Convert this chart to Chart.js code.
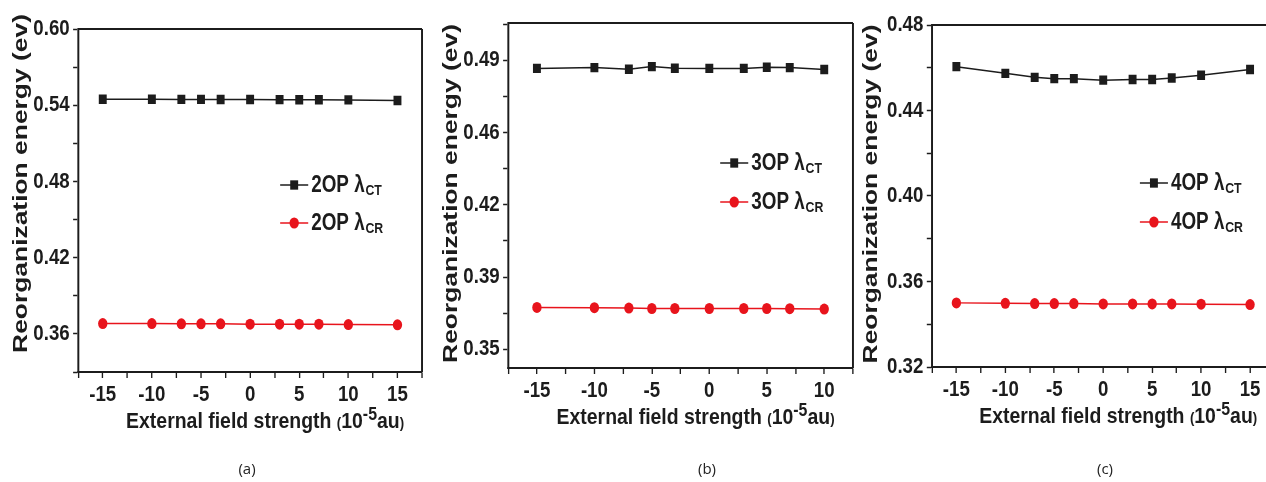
<!DOCTYPE html>
<html>
<head>
<meta charset="utf-8">
<script src="https://cdn.jsdelivr.net/npm/chart.js@4/dist/chart.umd.min.js"></script>
<style>
  html, body { margin: 0; padding: 0; background: #fff; }
  body { width: 1266px; height: 482px; overflow: hidden; position: relative; }
  canvas { position: absolute; top: 0; }
  .cap { position: absolute; top: 458px; width: 60px; margin-left: -30px; text-align: center;
         font: 15px "Open Sans", "Liberation Sans", sans-serif; color: #222; }
</style>
</head>
<body>
<canvas id="pa" width="520" height="482" style="left:0px"></canvas>
<canvas id="pb" width="520" height="482" style="left:430px"></canvas>
<canvas id="pc" width="520" height="482" style="left:852px"></canvas>
<div class="cap" style="left:247px">(a)</div>
<div class="cap" style="left:707px">(b)</div>
<div class="cap" style="left:1105px">(c)</div>
<script>
// ---- data ----
const fieldA = [-15, -10, -7, -5, -3, 0, 3, 5, 7, 10, 15];
const ctA = [0.5447, 0.5447, 0.5446, 0.5446, 0.5445, 0.5445, 0.5444, 0.5443, 0.5443, 0.5442, 0.5437];
const crA = [0.3681, 0.3681, 0.3679, 0.3679, 0.3679, 0.3676, 0.3676, 0.3676, 0.3676, 0.3673, 0.3671];

const fieldB = [-15, -10, -7, -5, -3, 0, 3, 5, 7, 10];
const ctB = [0.4860, 0.4864, 0.4856, 0.4869, 0.4861, 0.4860, 0.4860, 0.4866, 0.4864, 0.4855];
const crB = [0.3703, 0.3702, 0.3700, 0.3698, 0.3698, 0.3698, 0.3698, 0.3698, 0.3697, 0.3695];

const fieldC = [-15, -10, -7, -5, -3, 0, 3, 5, 7, 10, 15];
const ctC = [0.4605, 0.4574, 0.4555, 0.4549, 0.4549, 0.4542, 0.4545, 0.4545, 0.4552, 0.4565, 0.4592];
const crC = [0.3500, 0.3498, 0.3497, 0.3497, 0.3497, 0.3495, 0.3495, 0.3495, 0.3495, 0.3494, 0.3492];

// tick positions (major carry labels, minor are bare marks)
const xMajor = [-15, -10, -5, 0, 5, 10, 15];
const xTicksAC = [-17.5, -15, -12.5, -10, -7.5, -5, -2.5, 0, 2.5, 5, 7.5, 10, 12.5, 15, 17.5];
const xTicksB = [-17.5, -15, -12.5, -10, -7.5, -5, -2.5, 0, 2.5, 5, 7.5, 10, 12.5];

const yMajorA = [0.36, 0.42, 0.48, 0.54, 0.60];
const yLabelsA = ['0.36', '0.42', '0.48', '0.54', '0.60'];
const yMinorA = [0.33, 0.39, 0.45, 0.51, 0.57];

const yMajorB = [0.35, 0.385, 0.42, 0.455, 0.49];
const yLabelsB = ['0.35', '0.39', '0.42', '0.46', '0.49'];
const yMinorB = [0.3675, 0.4025, 0.4375, 0.4725, 0.5075];

const yMajorC = [0.32, 0.36, 0.40, 0.44, 0.48];
const yLabelsC = ['0.32', '0.36', '0.40', '0.44', '0.48'];
const yMinorC = [0.34, 0.38, 0.42, 0.46];

const Y_TITLE = 'Reorganization energy (ev)';
const X_TITLE = ['External field strength ', '(', '10', '-5', 'au', ')'];

// ---- styling ----
const INK = '#1c1c1c';
const RED = '#e8141c';
const SANS = '"Liberation Sans", Arial, sans-serif';
const SX = 0.85;   // horizontal condensing of each panel's drawing

const near = (a, b) => Math.abs(a - b) < 1e-9;

// condensed drawing, frame, axis titles and legend with sub/superscripts
const decor = {
  id: 'decor',
  beforeDraw(chart) {
    chart.ctx.save();
    chart.ctx.scale(SX, 1);
  },
  afterDraw(chart, args, o) {
    const { ctx, chartArea: a } = chart;
    ctx.save();
    ctx.strokeStyle = INK;
    ctx.lineWidth = 2;
    ctx.beginPath();
    ctx.moveTo(a.left, a.top);
    ctx.lineTo(a.right, a.top);
    ctx.stroke();
    ctx.lineWidth = 2.3;
    ctx.beginPath();
    ctx.moveTo(a.right, a.top);
    ctx.lineTo(a.right, a.bottom);
    ctx.stroke();

    ctx.fillStyle = INK;
    // y title
    ctx.save();
    ctx.translate(a.left + o.yTitleX, (a.top + a.bottom) / 2 + o.yTitleDy);
    ctx.rotate(-Math.PI / 2);
    ctx.scale(1.1, 1);
    ctx.font = 'bold 24px ' + SANS;
    ctx.textAlign = 'center';
    ctx.textBaseline = 'alphabetic';
    ctx.fillText(Y_TITLE, 0, 0);
    ctx.restore();

    // x title
    const parts = [
      { t: X_TITLE[0], s: 22, dy: 0 },
      { t: X_TITLE[1], s: 15, dy: 0 },
      { t: X_TITLE[2], s: 22, dy: 0 },
      { t: X_TITLE[3], s: 18, dy: -8 },
      { t: X_TITLE[4], s: 22, dy: 0 },
      { t: X_TITLE[5], s: 15, dy: 0 }
    ];
    const tx = 1.04;
    ctx.save();
    let total = 0;
    parts.forEach(p => { ctx.font = 'bold ' + p.s + 'px ' + SANS; p.w = ctx.measureText(p.t).width; total += p.w; });
    const cx = (a.left + a.right) / 2 + o.xTitleDx;
    ctx.translate(cx - total * tx / 2, a.bottom + o.xTitleY);
    ctx.scale(tx, 1);
    ctx.textAlign = 'left';
    ctx.textBaseline = 'alphabetic';
    let x = 0;
    parts.forEach(p => { ctx.font = 'bold ' + p.s + 'px ' + SANS; ctx.fillText(p.t, x, p.dy); x += p.w; });
    ctx.restore();

    // legend
    chart.data.datasets.forEach((ds, i) => {
      const lx = a.left + o.legendX;
      const ly = a.top + o.legendY + i * o.legendGap;
      ctx.strokeStyle = ds.borderColor;
      ctx.lineWidth = 1.5;
      ctx.beginPath();
      ctx.moveTo(lx, ly);
      ctx.lineTo(lx + 33, ly);
      ctx.stroke();
      ctx.fillStyle = ds.pointBackgroundColor;
      ctx.beginPath();
      if (ds.pointStyle === 'rect') {
        const h = ds.pointRadius * Math.SQRT1_2;
        ctx.rect(lx + 16.5 - h, ly - h, 2 * h, 2 * h);
      } else {
        ctx.arc(lx + 16.5, ly, ds.pointRadius, 0, Math.PI * 2);
      }
      ctx.fill();
      const [main, sub] = ds.label.split('|');
      ctx.save();
      ctx.translate(lx + 36.5, ly + 7);
      ctx.scale(0.965, 1);
      ctx.fillStyle = INK;
      ctx.textAlign = 'left';
      ctx.textBaseline = 'alphabetic';
      ctx.font = 'bold 23px ' + SANS;
      ctx.fillText(main, 0, 0);
      const mw = ctx.measureText(main).width;
      ctx.font = 'bold 15px ' + SANS;
      ctx.fillText(sub, mw + 1, 3);
      ctx.restore();
    });
    ctx.restore();
    ctx.restore();   // matches the save in beforeDraw
  }
};

function series(xs, ys, name, sub, color, style, r) {
  return {
    label: name + ' λ|' + sub,
    data: xs.map((x, i) => ({ x: x, y: ys[i] })),
    borderColor: color,
    backgroundColor: color,
    pointBackgroundColor: color,
    pointBorderColor: color,
    pointBorderWidth: 0,
    pointStyle: style,
    pointRadius: r,
    borderWidth: 1.5,
    tension: 0
  };
}

function panel(id, cfg) {
  const tickFont = { family: SANS, size: 22, weight: 'bold' };
  new Chart(document.getElementById(id), {
    type: 'line',
    data: {
      datasets: [
        series(cfg.xs, cfg.ct, cfg.name, 'CT', INK, 'rect', 6.6),
        series(cfg.xs, cfg.cr, cfg.name, 'CR', RED, 'circle', 5.5)
      ]
    },
    options: {
      responsive: false,
      animation: false,
      devicePixelRatio: 1,
      events: [],
      layout: { padding: cfg.pad },
      plugins: { legend: { display: false }, tooltip: { enabled: false }, decor: cfg.decor },
      scales: {
        x: {
          type: 'linear',
          min: cfg.xMin, max: cfg.xMax,
          afterBuildTicks: s => { s.ticks = cfg.xTicks.map(v => ({ value: v })); },
          afterFit: s => { s.height = 70; },
          ticks: {
            autoSkip: false, maxRotation: 0, padding: 4, color: INK, font: tickFont,
            callback: v => xMajor.some(m => near(m, v)) ? String(v) : ''
          },
          grid: { drawOnChartArea: false, drawTicks: true, tickLength: 6, tickWidth: 1.6, tickColor: INK },
          border: { display: true, width: 2, color: INK }
        },
        y: {
          type: 'linear',
          min: cfg.yMin, max: cfg.yMax,
          afterBuildTicks: s => {
            s.ticks = cfg.yMajor.concat(cfg.yMinor).sort((p, q) => p - q).map(v => ({ value: v }));
          },
          afterFit: s => { s.width = cfg.yWidth; },
          ticks: {
            autoSkip: false, padding: 4, color: INK, font: tickFont,
            callback: v => {
              const k = cfg.yMajor.findIndex(m => near(m, v));
              return k >= 0 ? cfg.yLabels[k] : '';
            }
          },
          grid: { drawOnChartArea: false, drawTicks: true, tickLength: 6, tickWidth: 1.5, tickColor: INK },
          border: { display: true, width: 2.3, color: INK }
        }
      }
    },
    plugins: [decor]
  });
}

panel('pa', {
  xs: fieldA, ct: ctA, cr: crA, name: '2OP',
  xMin: -17.5, xMax: 17.5, xTicks: xTicksAC,
  yMin: 0.33, yMax: 0.60, yMajor: yMajorA, yMinor: yMinorA, yLabels: yLabelsA,
  yWidth: 92, pad: { left: 0, top: 29, right: 23.5, bottom: 40 },
  decor: { yTitleX: -60, yTitleDy: -17, xTitleDx: 17.6, xTitleY: 56, legendX: 237.6, legendY: 156, legendGap: 38 }
});
panel('pb', {
  xs: fieldB, ct: ctB, cr: crB, name: '3OP',
  xMin: -17.5, xMax: 12.5, xTicks: xTicksB,
  yMin: 0.341, yMax: 0.508, yMajor: yMajorB, yMinor: yMinorB, yLabels: yLabelsB,
  yWidth: 92, pad: { left: 0, top: 23, right: 22.4, bottom: 44 },
  decor: { yTitleX: -60, yTitleDy: -2, xTitleDx: 17.6, xTitleY: 56, legendX: 249.4, legendY: 140, legendGap: 39 }
});
panel('pc', {
  xs: fieldC, ct: ctC, cr: crC, name: '4OP',
  xMin: -17.5, xMax: 17.5, xTicks: xTicksAC,
  yMin: 0.32, yMax: 0.48, yMajor: yMajorC, yMinor: yMinorC, yLabels: yLabelsC,
  yWidth: 94, pad: { left: 0, top: 25, right: 22.9, bottom: 45 },
  decor: { yTitleX: -64.7, yTitleDy: -2, xTitleDx: 17.6, xTitleY: 56, legendX: 244.7, legendY: 158, legendGap: 39 }
});
</script>
</body>
</html>
